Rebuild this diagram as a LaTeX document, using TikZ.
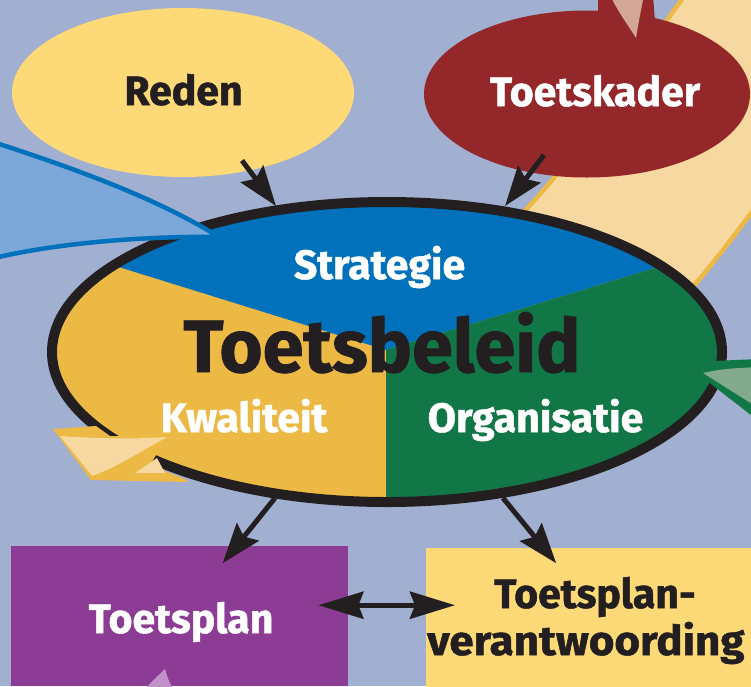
\documentclass[tikz,border=0pt]{standalone}
\usepackage{fontspec}
\setmainfont{Fira Sans}[BoldFeatures={FakeBold=1.2}]
\usetikzlibrary{shapes.geometric,arrows.meta,calc}
\definecolor{bg}{HTML}{A1AFD0}
\definecolor{reden}{HTML}{FDD978}
\definecolor{kader}{HTML}{93272A}
\definecolor{peach}{HTML}{F6D8A0}
\definecolor{gold}{HTML}{EDB945}
\definecolor{sblue}{HTML}{0071BA}
\definecolor{syellow}{HTML}{EDB945}
\definecolor{sgreen}{HTML}{117747}
\definecolor{lblue}{HTML}{7BA7D9}
\definecolor{lgreen}{HTML}{83AA8C}
\definecolor{pinktip}{HTML}{D3A696}
\definecolor{purp}{HTML}{8C3C94}
\definecolor{lpurp}{HTML}{C291C8}
\definecolor{ink}{HTML}{231F20}
\begin{document}
\begin{tikzpicture}[x=1pt,y=-1pt,
  lbl/.style={inner sep=0pt,font=\bfseries\fontsize{41}{44}\selectfont},
  arr/.style={line width=5pt,draw=ink,-{Stealth[length=40pt,width=28pt,inset=6pt]}},
  darr/.style={line width=5pt,draw=ink,{Stealth[length=45pt,width=27pt,inset=5pt]}-{Stealth[length=45pt,width=27pt,inset=5pt]}},
  ell/.style={ellipse,inner sep=0pt}]
\clip (0,0) rectangle (751,686);
\fill[bg] (0,0) rectangle (751,686);
% peach band
\filldraw[fill=peach, draw=gold, line width=4.5pt] (700,-25) .. controls (620,80) and (575,175) .. (470,262) -- (655,330) .. controls (775,200) and (850,60) .. (920,-30) -- cycle;
% dark red border of the tip above Toetskader
\fill[kader] (598,-5) -- (653,-5) -- (655,22) -- (636,46) -- (598,22) -- cycle;
% top ellipses
\node[ell, fill=reden, minimum width=342pt, minimum height=169pt] (reden) at (183,92.5) {};
\node[ell, fill=kader, minimum width=326pt, minimum height=167pt] (kader) at (587,94) {};
\fill[pinktip] (610,-5) .. controls (618,12) and (628,25) .. (636,38) .. controls (638,25) and (641,10) .. (644,-5) -- cycle;
% sectors
\begin{scope}
\clip (387,352) ellipse [x radius=335pt, y radius=150pt];
\fill[syellow] (40,190) rectangle (740,520);
\fill[sblue] (386,350) -- (-10,227) -- (-10,150) -- (770,150) -- (770,233) -- cycle;
\fill[sgreen] (386,350) -- (386,520) -- (770,520) -- (770,233) -- cycle;
\end{scope}
\node[ell, draw=ink, line width=10pt, minimum width=670pt, minimum height=300pt] (beleid) at (387,352) {};
% light blue arrow tip
\filldraw[fill=lblue, draw=sblue, line width=4.5pt] (-10,141) .. controls (80,170) and (160,200) .. (219,237) .. controls (150,236) and (60,242) .. (-10,259) -- cycle;
% green arrow tip
\fill[sgreen] (712,361) -- (760,359) -- (760,422) -- (698,374) -- cycle;
\fill[lgreen] (703,373) .. controls (720,369) and (735,368) .. (760,367) -- (760,409) -- cycle;
% yellow ribbon tip
\fill[syellow] (53,429) -- (96,426) -- (110,436) -- (167,437) -- (150,465) -- (185,479) -- (188,482) -- (91,480) -- cycle;
\fill[peach] (60,436) .. controls (100,439) and (140,439) .. (167,437) .. controls (140,452) and (115,468) .. (92,476) -- cycle;
\fill[peach] (135,473) -- (157,458) -- (165,473) -- cycle;
% boxes
\node[fill=purp, minimum width=337pt, minimum height=140pt, inner sep=0pt, anchor=north west] (plan) at (11,546) {};
\node[fill=reden, minimum width=380pt, minimum height=140pt, inner sep=0pt, anchor=north west] (verant) at (426,548) {};
\fill[lpurp] (147,687) .. controls (153,680) and (160,674) .. (165,669) .. controls (167,676) and (169,682) .. (172,687) -- cycle;
% labels
\node[lbl, text=ink, anchor=base] (tr) at (183.5,105) {Reden};
\node[lbl, text=white, anchor=base] (tk) at (595,106) {Toetskader};
\node[lbl, text=white, anchor=base] (ts) at (379.5,279) {Strategie};
\node[inner sep=0pt, anchor=base, font=\bfseries\fontsize{74}{80}\selectfont, text=ink] (tb) at (382,372) {Toetsbeleid};
\node[lbl, text=white, anchor=base] (tq) at (244,432) {Kwaliteit};
\node[lbl, text=white, anchor=base] (to) at (535.5,432) {Organisatie};
\node[lbl, text=white, anchor=base] (tp) at (181,633) {Toetsplan};
\node[lbl, text=ink, anchor=base] (tv1) at (595,608) {Toetsplan-};
\node[lbl, text=ink, anchor=base west] (tv2) at (427,655) {\scalebox{1.07}[1]{verantwoording}};
% arrows
\draw[arr] ($(reden)+(59,68)$) -- ($(beleid)+(-111,-146)$);
\draw[arr] ($(kader)+(-43,61)$) -- ($(beleid)+(118,-146)$);
\draw[arr] ($(beleid)+(-112,146)$) -- ($(plan)+(43,-53)$);
\draw[arr] ($(beleid)+(116,146)$) -- ($(verant)+(-60,-55)$);
\draw[darr] ($(plan.east)+(-30,-11)$) -- ($(verant.west)+(29,-13)$);
\end{tikzpicture}
\end{document}
